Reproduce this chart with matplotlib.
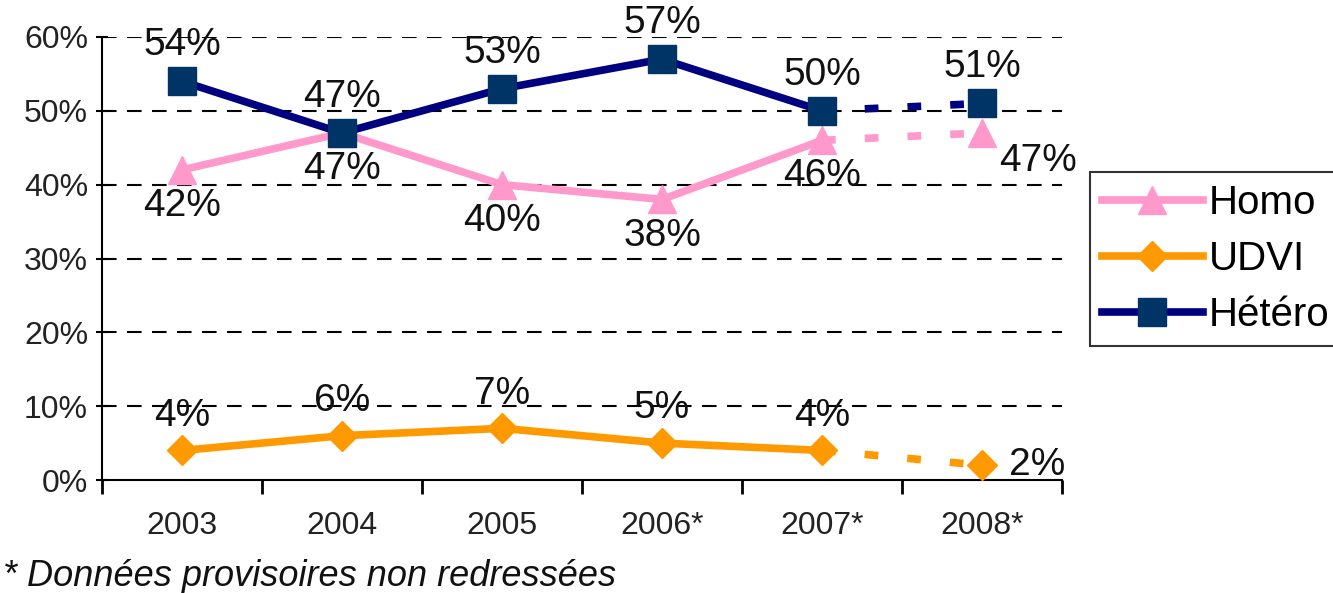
import matplotlib
matplotlib.use("Agg")
import matplotlib.pyplot as plt
from matplotlib.lines import Line2D
import numpy as np

plt.rcParams['font.family'] = ['Liberation Sans', 'DejaVu Sans']

years = ["2003", "2004", "2005", "2006*", "2007*", "2008*"]
homo = [42, 47, 40, 38, 46, 47]
udvi = [4, 6, 7, 5, 4, 2]
hetero = [54, 47, 53, 57, 50, 51]
yticks = [0, 10, 20, 30, 40, 50, 60]
footnote = "* Données provisoires non redressées"

fig = plt.figure(figsize=(13.33, 5.93), dpi=100)
ax = fig.add_axes([102/1333, 1-480/593, 960/1333, 443/593])

x = np.arange(len(years))
pink = "#FF99CC"
orange = "#FF9900"
navy = "#000080"
navy_m = "#003366"

series = [
    ("Homo", homo, pink, pink, "^", 20),
    ("UDVI", udvi, orange, orange, "D", 15),
    ("Hétéro", hetero, navy, navy_m, "s", 20),
]

for name, vals, lc, mc, mk, ms in series:
    ax.plot(x[:5], vals[:5], color=lc, lw=5.5, zorder=3, solid_capstyle='butt')
    ax.plot(x[4:], vals[4:], color=lc, lw=5.5, dashes=(1.8, 3.8), zorder=3)
    ax.plot(x, vals, linestyle='none', marker=mk, markersize=ms,
            markerfacecolor=mc, markeredgecolor=mc, zorder=4)

txtc = '#111111'
for i, v in enumerate(hetero):
    ax.annotate(f"{v}%", (x[i], v), xytext=(0, 26), textcoords='offset points',
                ha='center', va='center', fontsize=28, color=txtc, zorder=5)
for i, v in enumerate(homo):
    off = (40, -20) if i == 5 else (0, -26)
    ax.annotate(f"{v}%", (x[i], v), xytext=off, textcoords='offset points',
                ha='center', va='center', fontsize=28, color=txtc, zorder=5)
for i, v in enumerate(udvi):
    off = (40, 0) if i == 5 else (0, 25)
    ax.annotate(f"{v}%", (x[i], v), xytext=off, textcoords='offset points',
                ha='center', va='center', fontsize=28, color=txtc, zorder=5)

ax.set_xlim(-0.5, len(years) - 0.5)
ax.set_ylim(0, 60)
ax.set_yticks(yticks)
ax.set_yticklabels([f"{t}%" for t in yticks], fontsize=23, color='#222222')
ax.set_xticks(x)
ax.set_xticklabels(years, fontsize=23, color='#222222')
ax.set_xticks(np.arange(-0.5, len(years) + 0.5, 1), minor=True)
ax.tick_params(axis='x', which='major', length=0, pad=22)
ax.tick_params(axis='x', which='minor', length=10, width=2, direction='out')
ax.tick_params(axis='y', length=8, width=1.5, direction='inout', pad=6)

for s in ['top', 'right']:
    ax.spines[s].set_visible(False)
ax.spines['left'].set_linewidth(1.5)
ax.spines['bottom'].set_linewidth(1.5)

for t in yticks[1:]:
    ax.axhline(t, color='black', lw=1.5, dashes=(7, 5), zorder=1)

handles = [
    Line2D([], [], color=pink, lw=5.5, marker='^', markersize=20, markerfacecolor=pink, markeredgecolor=pink),
    Line2D([], [], color=orange, lw=5.5, marker='D', markersize=15, markerfacecolor=orange, markeredgecolor=orange),
    Line2D([], [], color=navy, lw=5.5, marker='s', markersize=20, markerfacecolor=navy_m, markeredgecolor=navy_m),
]
leg = fig.legend(handles, ["Homo", "UDVI", "Hétéro"], loc='upper left',
                 bbox_to_anchor=(1090/1333, 1-172/593), fontsize=29, frameon=True,
                 fancybox=False, edgecolor='black', handlelength=2.5, handletextpad=0.15,
                 borderpad=0.3, labelspacing=0.45, borderaxespad=0)
leg.get_frame().set_linewidth(1.5)

fig.text(0.002, 1-576/593, footnote, fontsize=26, style='italic', va='center', ha='left', color=txtc)

fig.savefig("out.png", dpi=100)
